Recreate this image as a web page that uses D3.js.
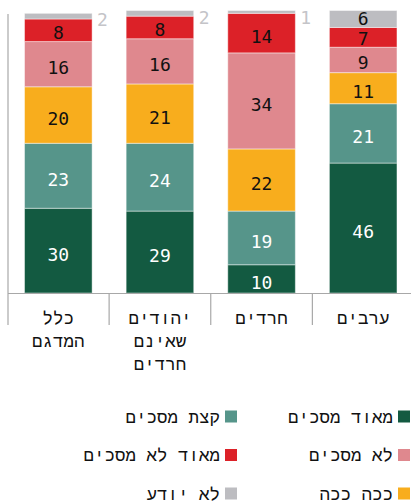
<!DOCTYPE html>
<html><head><meta charset="utf-8">
<script src="https://cdn.jsdelivr.net/npm/d3@7"></script>
<style>
html,body{margin:0;padding:0;background:#fff;}
svg{display:block;font-family:"Liberation Mono","DejaVu Sans Mono",monospace;}
.num{font-family:"DejaVu Sans Mono",monospace;}
</style></head>
<body>
<svg id="chart" width="411" height="504"></svg>
<script>
// Survey groups (columns) and answer categories (stack order bottom → top)
const groups = [["כלל","המדגם"],["יהודים","שאינם","חרדים"],["חרדים"],["ערבים"]];
const answers = ["מאוד מסכים","קצת מסכים","ככה ככה","לא מסכים","מאוד לא מסכים","לא יודע"];
const colors = ["#135a41","#56958a","#f8ad1d","#df888e","#dc2128","#bdbdc1"];
const textColors = ["#fff","#fff","#111","#111","#111","#111"];

// Percent per answer, one array per group
const stronglyAgree    = [30, 29, 10, 46];
const somewhatAgree    = [23, 24, 19, 21];
const soSo             = [20, 21, 22, 11];
const disagree         = [16, 16, 34, 9];
const stronglyDisagree = [8, 8, 14, 7];
const dontKnow         = [2, 2, 1, 6];
const series = [stronglyAgree, somewhatAgree, soSo, disagree, stronglyDisagree, dontKnow];

const svg = d3.select("#chart");
const base = 293;

const x = d3.scaleBand().domain(d3.range(groups.length)).range([7.5, 414]).padding(0);
const y = d3.scaleLinear().domain([0, 100]).range([base, 10.5]);
const barW = x.bandwidth() * 0.665;

// stacked layout
const rows = groups.map((g, i) => {
  const o = {idx: i};
  answers.forEach((a, k) => o[k] = series[k][i]);
  return o;
});
const stack = d3.stack().keys(d3.range(answers.length))(rows);

const layers = svg.append("g").selectAll("g").data(stack).join("g")
  .attr("fill", (d, k) => colors[k]);

layers.selectAll("rect").data(d => d).join("rect")
  .attr("x", d => x(d.data.idx) + (x.bandwidth() - barW) / 2)
  .attr("width", barW)
  .attr("y", d => y(d[1]))
  .attr("height", d => y(d[0]) - y(d[1]))
  .attr("stroke", "rgba(255,255,255,0.45)")
  .attr("stroke-width", 1);

// value labels (small shares go beside the bar top)
stack.forEach((layer, k) => {
  layer.forEach(d => {
    const v = d[1] - d[0];
    const cx = x(d.data.idx) + x.bandwidth() / 2;
    const inside = v >= 5;
    const h = y(d[0]) - y(d[1]);
    const shift = Math.min(3.5, Math.max(0, (h - 17) / 3));
    svg.append("text")
      .attr("class", "num")
      .attr("x", inside ? cx : cx + barW / 2 + 5)
      .attr("y", inside ? (y(d[0]) + y(d[1])) / 2 + shift : y(d[1]) + 13)
      .attr("dy", inside ? "0.36em" : 0)
      .attr("text-anchor", inside ? "middle" : "start")
      .attr("font-size", 18)
      .attr("fill", inside ? textColors[k] : "#c4c4c8")
      .text(v);
  });
});

// axes lines and group dividers
const axisCol = "#a8a8a8";
svg.append("line").attr("x1", 8).attr("x2", 8).attr("y1", 14).attr("y2", 325)
  .attr("stroke", axisCol).attr("stroke-width", 1.2);
svg.append("line").attr("x1", 8).attr("x2", 411).attr("y1", base + 0.5).attr("y2", base + 0.5)
  .attr("stroke", axisCol).attr("stroke-width", 1.2);
svg.append("g").selectAll("line").data(d3.range(1, groups.length)).join("line")
  .attr("x1", d => x(d)).attr("x2", d => x(d))
  .attr("y1", base).attr("y2", 325)
  .attr("stroke", axisCol).attr("stroke-width", 1.2);

// group labels
groups.forEach((lines, i) => {
  lines.forEach((t, j) => {
    svg.append("text")
      .attr("x", x(i) + x.bandwidth() / 2)
      .attr("y", 324 + j * 23)
      .attr("text-anchor", "middle")
      .attr("font-size", 17.5)
      .attr("fill", "#111")
      .text(t);
  });
});

// legend: two columns, right column first
const legendCols = [[0, 3, 2], [1, 4, 5]];
const colRight = [410, 237];
legendCols.forEach((col, c) => {
  col.forEach((k, r) => {
    const yy = 410.5 + r * 38.5;
    svg.append("rect")
      .attr("x", colRight[c] - 12).attr("y", yy)
      .attr("width", 12).attr("height", 12)
      .attr("fill", colors[k]);
    svg.append("text")
      .attr("x", colRight[c] - 17)
      .attr("y", yy + 12)
      .attr("text-anchor", "end")
      .attr("font-size", 17.5)
      .attr("fill", "#111")
      .text(answers[k]);
  });
});
</script>
</body></html>
